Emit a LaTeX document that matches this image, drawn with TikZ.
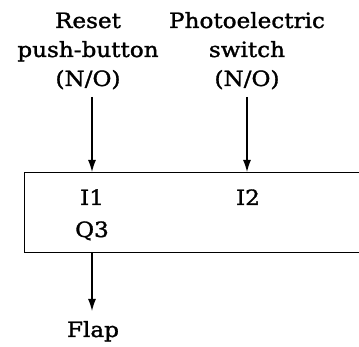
\documentclass[tikz,border=0pt]{standalone}
\usepackage{fontspec}
\setmainfont{DejaVu Serif}[FakeStretch=1.1, FakeBold=1.5]
\usetikzlibrary{arrows.meta}
\begin{document}
\begin{tikzpicture}[x=1pt,y=1pt,
  lbl/.style={font=\fontsize{21}{29}\selectfont, align=center, inner sep=0pt},
  arr/.style={line width=1.2pt, -{Latex[length=12pt,width=8pt]}},
  boxline/.style={draw, line width=1.3pt}]
\useasboundingbox (0,0) rectangle (359,-347);
\clip (0,0) rectangle (359,-347);
\node[lbl, anchor=base] (t1) at (88,-86) {Reset\\push-button\\(N/O)};
\node[lbl, anchor=base] (t2) at (247,-86) {Photoelectric\\switch\\(N/O)};
\node[boxline, anchor=north west, minimum width=360pt, minimum height=80pt, inner sep=0pt] (box) at (24,-172) {};
\node[lbl, anchor=base] (i1) at (92,-205) {I1};
\node[lbl, anchor=base] (i2) at (248,-205) {I2};
\node[lbl, anchor=base] (q3) at (92,-237) {Q3};
\node[lbl, anchor=base] (flap) at (93,-337) {Flap};
\coordinate (a1s) at (92,-97);
\coordinate (a2s) at (247,-97);
\draw[arr] (a1s) -- (box.north -| a1s);
\draw[arr] (a2s) -- (box.north -| a2s);
\draw[arr] (box.south -| a1s) -- (92,-311) coordinate (fe);
\end{tikzpicture}
\end{document}
